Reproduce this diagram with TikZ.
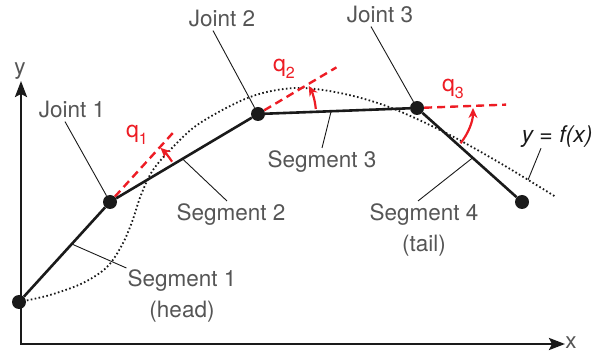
\documentclass[tikz,border=0pt]{standalone}
\usepackage{fontspec}
\setmainfont{TeX Gyre Heros}
\usetikzlibrary{arrows.meta,positioning,calc}
\definecolor{Ink}{HTML}{1A1A1A}
\definecolor{Grey}{HTML}{555555}
\definecolor{Red}{HTML}{ED1C24}
\newcommand{\qlab}[1]{q\raisebox{-0.5ex}{\fontsize{16}{16}\selectfont #1}}

\begin{document}
\begin{tikzpicture}[x=1pt,y=1pt,
    jt/.style={circle,fill=Ink,inner sep=0pt,minimum size=14pt},
    lb/.style={text=Grey,font=\fontsize{22.5}{31}\selectfont,inner sep=3pt,align=center,anchor=base},
    ql/.style={text=Red,font=\fontsize{23}{24}\selectfont,inner sep=1pt,anchor=base},
    sg/.style={line width=2.6pt,draw=Ink},
    ex/.style={line width=2.4pt,draw=Red,dash pattern=on 8pt off 5pt},
    ag/.style={line width=2.2pt,draw=Red,-{Stealth[length=10pt,width=9pt]}},
    ld/.style={line width=0.9pt,draw=Ink},
    ax/.style={line width=2.6pt,draw=Ink,{Stealth[length=16pt,width=12pt,inset=3pt]}-{Stealth[length=16pt,width=12pt,inset=3pt]}}]
  \useasboundingbox (0,0) rectangle (612,353);
  % axes
  \coordinate (o) at (21,9);
  \coordinate (ytip) at (21,272);
  \coordinate (xtip) at (565,9);
  \draw[ax] (ytip) -- (o) -- (xtip);
  \node[lb] (xl) at (571,5) {x};
  \node[lb] (yl) at (20,278) {y};

  % joints
  \node[jt] (head) at (19,51) {};
  \node[jt] (j1) at (110,151) {};
  \node[jt] (j2) at (258,239) {};
  \node[jt] (j3) at (417,245) {};
  \node[jt] (tail) at (522,151) {};

  % y = f(x)
  \draw[line width=1.8pt,dash pattern=on 1.6pt off 2.4pt,draw=Ink] plot[smooth,tension=0.55] coordinates {
    (19,51) (50,58) (83,70) (107,86) (122,108) (132,131) (141,158) (153,183) (173,206)
    (200,230) (250,256) (295,265) (340,260) (389,246) (446,220) (500,190) (556,156)};
  \coordinate (fpt) at (528,173);

  % extensions and angles
  \draw[ex] (j1) -- ($(head)!1.69!(j1)$);
  \draw[ex] (j2) -- ($(j1)!1.53!(j2)$);
  \draw[ex] (j3) -- ($(j2)!1.56!(j3)$);
  \draw[ag] ([shift={(33:74)}]j1.center) arc[start angle=33,end angle=47,radius=74];
  \draw[ag] ([shift={(5:58)}]j2.center) arc[start angle=5,end angle=29,radius=58];
  \draw[ag] ([shift={(-39:56)}]j3.center) arc[start angle=-39,end angle=0,radius=56];
  \node[ql] (q1) at (137,215) {\qlab{1}};
  \node[ql] (q2) at (284,281) {\qlab{2}};
  \node[ql] (q3) at (453,261) {\qlab{3}};

  % segments
  \draw[sg] (head) -- (j1) -- (j2) -- (j3) -- (tail);

  % labels (base = last line)
  \node[lb] (lj1) at (72,235) {Joint 1};
  \node[lb] (lj2) at (222,326) {Joint 2};
  \node[lb] (lj3) at (380,330) {Joint 3};
  \node[lb] (ls1) at (182,36) {Segment 1\\(head)};
  \node[lb] (ls2) at (231,132) {Segment 2};
  \node[lb] (ls3) at (322,185) {Segment 3};
  \node[lb] (ls4) at (424,101) {Segment 4\\(tail)};
  \node[lb,text=Ink,font=\fontsize{23}{24}\selectfont\itshape] (lf) at (557,210) {y = f(x)};

  \coordinate (s1) at ($(head)!0.58!(j1)$);
  \coordinate (s2) at ($(j1)!0.49!(j2)$);
  \coordinate (s3) at ($(j2)!0.46!(j3)$);
  \coordinate (s4) at ($(j3)!0.53!(tail)$);
  \draw[ld] ([xshift=-7pt]lj1.south) -- (j1);
  \draw[ld] ([xshift=-9pt]lj2.south) -- (j2);
  \draw[ld] ([xshift=-9pt]lj3.south) -- (j3);
  \draw[ld] (s1) -- ([xshift=2pt,yshift=-2pt]ls1.north west);
  \draw[ld] (s2) -- ([xshift=-4pt]ls2.north);
  \draw[ld] (s3) -- (ls3.north);
  \draw[ld] (s4) -- ([xshift=-6pt]ls4.north);
  \draw[ld] (fpt) -- ([xshift=-16pt,yshift=3pt]lf.south);
\end{tikzpicture}
\end{document}
